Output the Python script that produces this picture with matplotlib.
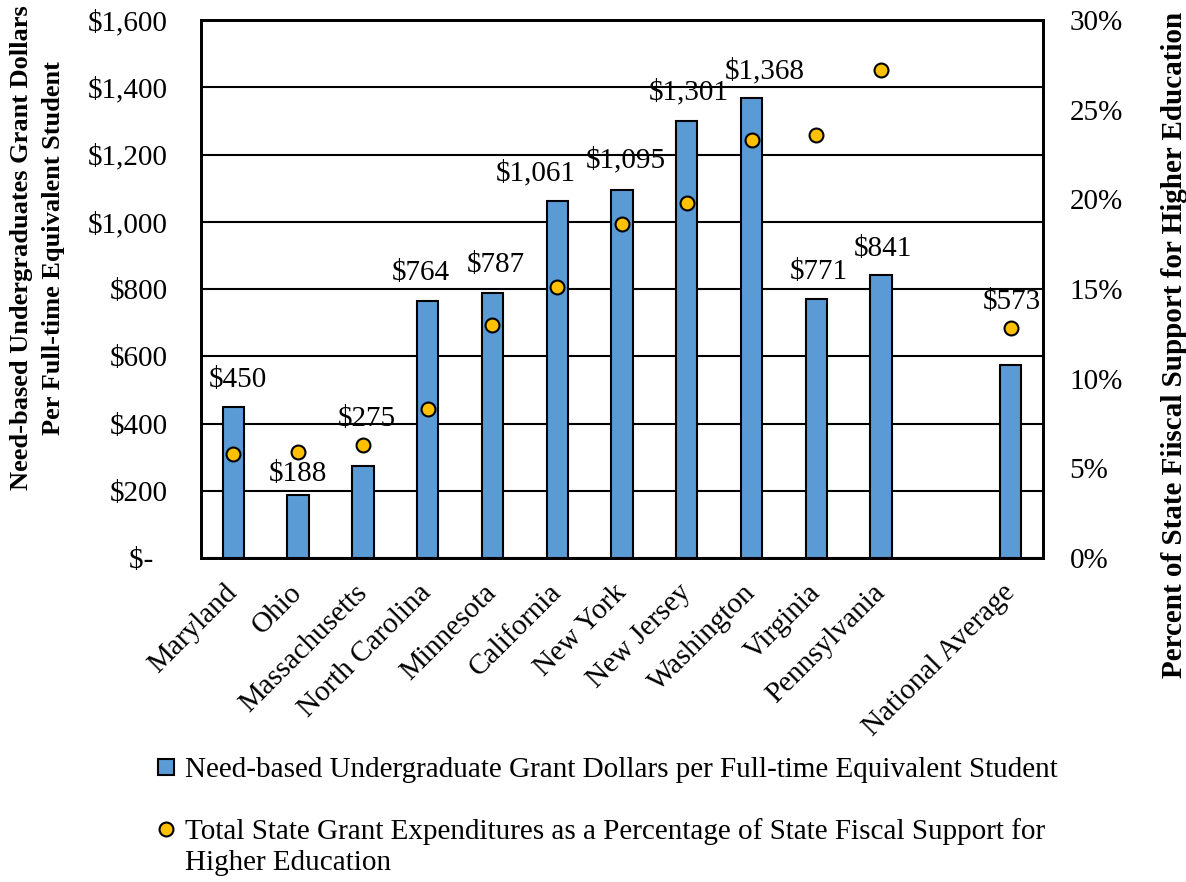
import numpy as np
import matplotlib.pyplot as plt
from matplotlib.lines import Line2D
from matplotlib.ticker import FuncFormatter, PercentFormatter

plt.rcParams['font.family'] = ['Liberation Serif', 'DejaVu Serif']

states = ['Maryland', 'Ohio', 'Massachusetts', 'North Carolina', 'Minnesota',
          'California', 'New York', 'New Jersey', 'Washington', 'Virginia',
          'Pennsylvania', '', 'National Average']
grant_dollars = [450, 188, 275, 764, 787, 1061, 1095, 1301, 1368, 771, 841, np.nan, 573]
pct_support = [5.8, 5.9, 6.3, 8.3, 13.0, 15.1, 18.6, 19.8, 23.3, 23.6, 27.2, np.nan, 12.8]

# label nudges in pixels (dx, dy above bar top), hand placed like the original
label_offsets = [(4, 27), (0, 21), (4, 47), (-7, 28), (3, 28), (-21, 28), (4, 30),
                 (2, 28), (13, 27), (3, 27), (2, 26), None, (1, 63)]

bar_color = '#5B9BD5'
dot_color = '#FFC000'
fs = 21

fig = plt.figure(figsize=(11.86, 8.82), dpi=100)
ax = fig.add_axes([201 / 1186, 1 - 558 / 882, 842 / 1186, 538 / 882])
ax2 = ax.twinx()

x = np.arange(len(states))
ax.bar(x, grant_dollars, width=0.33, color=bar_color, edgecolor='black', linewidth=1.5, zorder=3)
ax2.plot(x, pct_support, 'o', color=dot_color, markeredgecolor='black',
         markeredgewidth=1.5, markersize=10, zorder=4)

for xi, v, off in zip(x, grant_dollars, label_offsets):
    if off is None:
        continue
    ax.annotate(f'${v:,.0f}', (xi, v), xytext=off, textcoords='offset pixels',
                ha='center', va='center', fontsize=fs, zorder=5)

ax.set_xlim(-0.5, len(states) - 0.5)
ax.set_ylim(0, 1600)
ax.set_yticks(np.arange(0, 1601, 200))
ax.yaxis.set_major_formatter(FuncFormatter(lambda v, p: '$-  ' if v == 0 else f'${v:,.0f}'))
ax.grid(axis='y', color='black', linewidth=1.5, zorder=0)
ax.set_axisbelow(True)
ax.tick_params(axis='y', length=0, pad=24, labelsize=fs)
ax.set_xticks(x)
ax.set_xticklabels(states, rotation=45, ha='right', va='center', rotation_mode='anchor', fontsize=fs)
ax.tick_params(axis='x', length=0, pad=22)

ax2.set_ylim(0, 30)
ax2.set_yticks(np.arange(0, 31, 5))
ax2.yaxis.set_major_formatter(PercentFormatter(decimals=0))
ax2.tick_params(axis='y', length=0, pad=19, labelsize=fs)

for a in (ax, ax2):
    for s in a.spines.values():
        s.set_linewidth(2)

fig.text(38 / 1186, 1 - 248 / 882,
         'Need-based Undergraduates Grant Dollars\nPer Full-time Equivalent Student',
         rotation=90, ha='center', va='center', fontsize=19, fontweight='bold',
         multialignment='center', linespacing=1.5)
fig.text(1174 / 1186, 1 - 345 / 882,
         'Percent of State Fiiscal Support for Higher Education',
         rotation=90, ha='center', va='center', fontsize=21, fontweight='bold')

handles = [
    Line2D([], [], marker='s', ls='none', color=bar_color, markeredgecolor='black',
           markeredgewidth=1.5, markersize=11),
    Line2D([], [], marker='o', ls='none', color=dot_color, markeredgecolor='black',
           markeredgewidth=1.5, markersize=10),
]
labels = ['Need-based Undergraduate Grant Dollars per Full-time Equivalent Student',
          'Total State Grant Expenditures as a Percentage of State Fiscal Support for']
fig.legend(handles, labels, loc='upper left', bbox_to_anchor=(157 / 1186, 1 - 757 / 882),
           frameon=False, fontsize=fs, handlelength=0.6, handletextpad=0.35,
           labelspacing=1.2, borderpad=0, borderaxespad=0)
# wrapped second line of the second legend entry
fig.text(185 / 1186, 1 - 863 / 882, 'Higher Education', ha='left', va='center', fontsize=fs)

fig.savefig('out.png', dpi=100)
